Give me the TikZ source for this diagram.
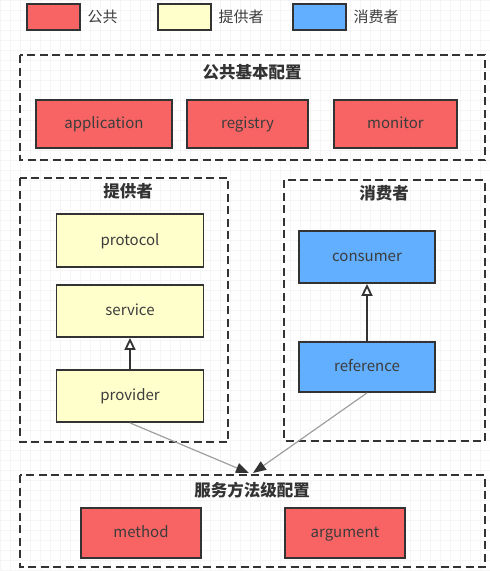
\documentclass[tikz,border=0pt]{standalone}
\usepackage{fontspec}
\setmainfont{Noto Sans CJK SC}
\usetikzlibrary{arrows.meta}
\definecolor{cred}{HTML}{F86464}
\definecolor{cyel}{HTML}{FFFFCC}
\definecolor{cblue}{HTML}{62AEFF}
\definecolor{cline}{HTML}{333333}
\definecolor{ctext}{HTML}{3C3C3C}
\tikzset{
  box/.style={draw=cline, line width=1.8pt, minimum width=#1, inner sep=0pt, text height=12.5pt, text depth=3pt, font=\fontsize{15}{17}\selectfont, text=ctext},
  box/.default={120pt},
  redbox/.style={box=#1, fill=cred},
  yelbox/.style={box=#1, fill=cyel},
  bluebox/.style={box=#1, fill=cblue},
  group/.style={draw=cline, line width=2.2pt, dash pattern=on 8pt off 4.5pt},
  gtitle/.style={font=\bfseries\fontsize{16.5}{18}\selectfont, text=cline},
  legtext/.style={font=\fontsize{15}{17}\selectfont, text=ctext, anchor=west},
  inh/.style={draw=cline, line width=1.8pt, -{Triangle[open, length=12pt, width=11pt, fill=white]}},
  flow/.style={draw=gray!75, line width=1.2pt, -{Triangle[length=13pt, width=10pt, color=cline]}}
}
\begin{document}
\begin{tikzpicture}[x=1pt,y=-1pt]
\useasboundingbox (0,0) rectangle (490,571);
\fill[white] (0,0) rectangle (490,571);
\draw[gray!8, line width=0.5pt, step=10pt] (0,0) grid (490,571);
% legend
\node[redbox=53pt, minimum height=26pt] (l1) at (53.5,17) {};
\node[legtext] (l1t) at (84,17) {公共};
\node[yelbox=53pt, minimum height=26pt] (l2) at (184.5,17) {};
\node[legtext] (l2t) at (215,17) {提供者};
\node[bluebox=53pt, minimum height=26pt] (l3) at (319.5,17) {};
\node[legtext] (l3t) at (350,17) {消费者};
% top group
\draw[group] (20,55) rectangle (485,160);
\node[gtitle] (g1) at (252,72) {公共基本配置};
\node[redbox=136pt, minimum height=48pt] (app) at (104,124) {application};
\node[redbox=121pt, minimum height=48pt] (reg) at (247.5,124) {registry};
\node[redbox=123pt, minimum height=48pt] (mon) at (395.5,124) {monitor};
% provider group
\draw[group] (20,178) rectangle (228,442);
\node[gtitle] (g2) at (128,191) {提供者};
\node[yelbox=147pt, minimum height=53pt] (proto) at (130,240.5) {protocol};
\node[yelbox=147pt, minimum height=52pt] (serv) at (130,311) {service};
\node[yelbox=147pt, minimum height=52pt] (prov) at (130,396) {provider};
\draw[inh] (prov) -- (serv);
% consumer group
\draw[group] (284,180) rectangle (485,441);
\node[gtitle] (g3) at (384,193) {消费者};
\node[bluebox=136pt, minimum height=52pt] (cons) at (367,257) {consumer};
\node[bluebox=136pt, minimum height=50pt] (ref) at (367,367) {reference};
\draw[inh] (ref) -- (cons);
% bottom group
\draw[group] (20,475) rectangle (485,567);
\node[gtitle] (g4) at (252,490) {服务方法级配置};
\node[redbox=120pt, minimum height=50pt] (meth) at (141,533) {method};
\node[redbox=120pt, minimum height=50pt] (arg) at (345,533) {argument};
% flows
\coordinate (t1) at (249,473);
\coordinate (t2) at (253,473);
\draw[flow] (prov.south) -- (t1);
\draw[flow] (ref.south) -- (t2);
\end{tikzpicture}
\end{document}
